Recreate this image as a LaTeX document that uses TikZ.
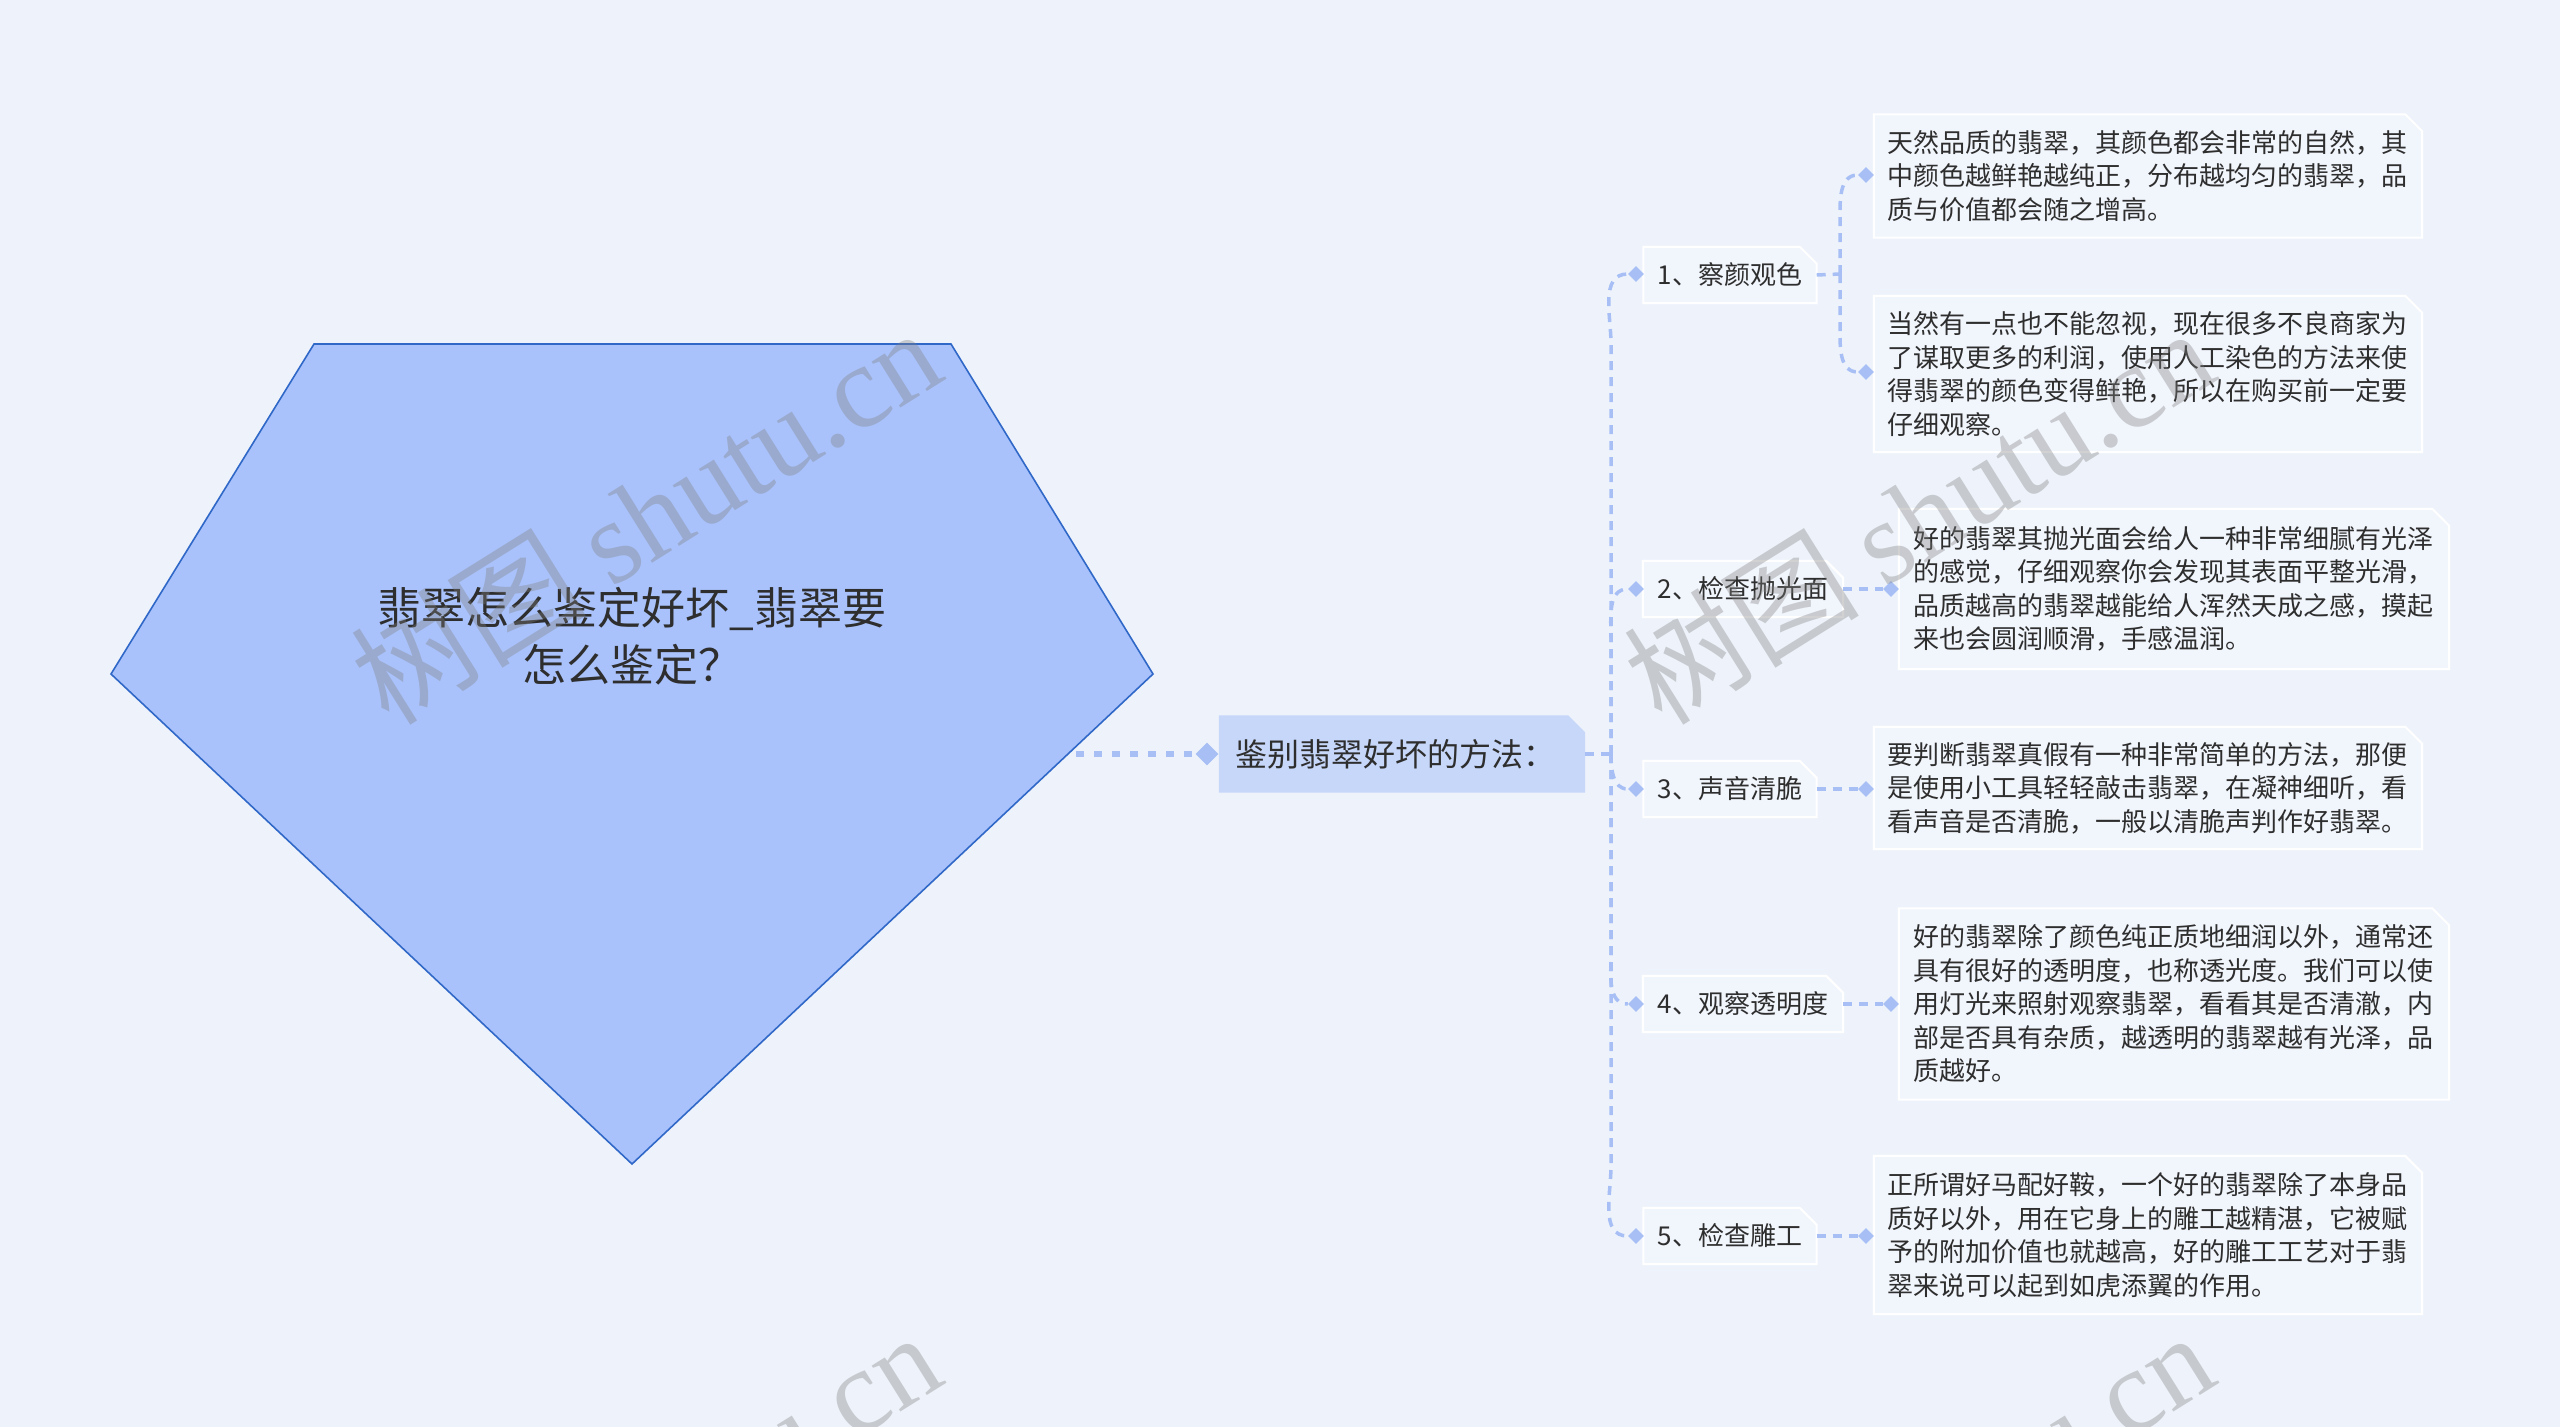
\documentclass[tikz,border=0pt]{standalone}
\usepackage{fontspec}
\setmainfont{Noto Sans CJK SC}
\newfontfamily\wmserif{Liberation Serif}
\usetikzlibrary{shapes.geometric}
\definecolor{bgc}{HTML}{EEF3FB}
\definecolor{pentfill}{HTML}{A9C2FB}
\definecolor{pentline}{HTML}{3068C8}
\definecolor{mainfill}{HTML}{C7D7F9}
\definecolor{linkc}{HTML}{A7BFF4}
\definecolor{boxfill}{HTML}{F1F5FC}
\definecolor{txt}{HTML}{2E2E2E}
\definecolor{wmc}{HTML}{808080}
\pgfdeclarelayer{back}
\pgfdeclarelayer{front}
\pgfsetlayers{back,main,front}
\newcommand\cutshape[3]{%
  \begin{pgfonlayer}{back}
  \path[#2] (#1.south west) -- (#1.north west) -- ([xshift=-#3pt]#1.north east) -- ([yshift=-#3pt]#1.north east) -- (#1.south east) -- cycle;
  \end{pgfonlayer}}
\begin{document}
\begin{tikzpicture}[x=1pt,y=-1pt,
  pent/.style={fill=pentfill,draw=pentline,line width=1.6pt,line join=miter},
  titletext/.style={align=center,text=txt,font=\fontsize{44}{57}\selectfont,inner sep=0pt},
  mainnode/.style={text width=334pt,inner xsep=16pt,inner ysep=0pt,minimum height=77pt,align=left,text=txt,font=\fontsize{32}{38}\selectfont},
  branchnode/.style={inner xsep=14pt,inner ysep=0pt,minimum height=56pt,text=txt,font=\fontsize{26}{32}\selectfont},
  leafnode/.style={text width=522pt,inner xsep=13pt,inner ysep=0pt,align=left,text=txt,font=\fontsize{26}{33.5}\selectfont},
  mainshape/.style={fill=mainfill},
  boxshape/.style={fill=boxfill,draw=white,line width=2pt},
  dmd/.style={shape=diamond,fill=linkc,inner sep=0pt,minimum size=16pt},
  bigdmd/.style={shape=diamond,fill=linkc,inner sep=0pt,minimum size=23pt},
  link/.style={draw=linkc,line width=3.5pt,dash pattern=on 9pt off 7pt},
  mainlink/.style={draw=linkc,line width=5.5pt,dash pattern=on 8pt off 10pt},
  wm/.style={text=wmc,opacity=0.36,inner sep=0pt,font=\fontsize{118}{120}\selectfont}
]
\useasboundingbox (0,0) rectangle (2560,1427);
\begin{pgfonlayer}{back}
\fill[bgc] (0,0) rectangle (2560,1427);
\end{pgfonlayer}

% root pentagon
\draw[pent] (314,344) -- (951,344) -- (1153,674) -- (632,1164) -- (111,674) -- cycle;
\node[titletext] (title) at (632,636) {翡翠怎么鉴定好坏\_翡翠要\\怎么鉴定？};
\coordinate (rootout) at (1076,754);

% main node
\node[mainnode] (main) at (1402,754) {鉴别翡翠好坏的方法：};
\cutshape{main}{mainshape}{17}
\node[bigdmd] (dmain) at (1207,754) {};
\draw[mainlink] (rootout) -- (dmain.west);

% branches
\node[branchnode,minimum width=173pt] (b1) at (1730,275) {1、察颜观色};
\node[branchnode,minimum width=200pt] (b2) at (1743,589) {2、检查抛光面};
\node[branchnode,minimum width=173pt] (b3) at (1730,789) {3、声音清脆};
\node[branchnode,minimum width=200pt] (b4) at (1743,1004) {4、观察透明度};
\node[branchnode,minimum width=173pt] (b5) at (1730,1236) {5、检查雕工};
\foreach \b in {b1,b2,b3,b4,b5}{\cutshape{\b}{boxshape}{17}}

\node[dmd] (d1) at (1636,274) {};
\node[dmd] (d2) at (1636,589) {};
\node[dmd] (d3) at (1636,789) {};
\node[dmd] (d4) at (1636,1004) {};
\node[dmd] (d5) at (1636,1236) {};

\coordinate (j) at (1611,754);
\draw[link] (main.east) -- (j);
\draw[link] (j) -- ([yshift=-70pt]j |- d1) to[out=90,in=180] (d1.west);
\draw[link] (j) -- ([yshift=-50pt]j |- d2) to[out=90,in=180] (d2.west);
\draw[link] (j) to[out=-90,in=180] (d3.west);
\draw[link] (j) -- ([yshift=50pt]j |- d4) to[out=-90,in=180] (d4.west);
\draw[link] (j) -- ([yshift=70pt]j |- d5) to[out=-90,in=180] (d5.west);

% leaves
\node[leafnode,minimum height=123pt] (l1a) at (2148,176) {天然品质的翡翠，其颜色都会非常的自然，其\\中颜色越鲜艳越纯正，分布越均匀的翡翠，品\\质与价值都会随之增高。};
\node[leafnode,minimum height=156pt] (l1b) at (2148,374) {当然有一点也不能忽视，现在很多不良商家为\\了谋取更多的利润，使用人工染色的方法来使\\得翡翠的颜色变得鲜艳，所以在购买前一定要\\仔细观察。};
\node[leafnode,minimum height=160pt,minimum width=550pt] (l2) at (2174,589) {好的翡翠其抛光面会给人一种非常细腻有光泽\\的感觉，仔细观察你会发现其表面平整光滑，\\品质越高的翡翠越能给人浑然天成之感，摸起\\来也会圆润顺滑，手感温润。};
\node[leafnode,minimum height=122pt] (l3) at (2148,788) {要判断翡翠真假有一种非常简单的方法，那便\\是使用小工具轻轻敲击翡翠，在凝神细听，看\\看声音是否清脆，一般以清脆声判作好翡翠。};
\node[leafnode,minimum height=191pt,minimum width=550pt] (l4) at (2174,1004) {好的翡翠除了颜色纯正质地细润以外，通常还\\具有很好的透明度，也称透光度。我们可以使\\用灯光来照射观察翡翠，看看其是否清澈，内\\部是否具有杂质，越透明的翡翠越有光泽，品\\质越好。};
\node[leafnode,minimum height=158pt] (l5) at (2148,1235) {正所谓好马配好鞍，一个好的翡翠除了本身品\\质好以外，用在它身上的雕工越精湛，它被赋\\予的附加价值也就越高，好的雕工工艺对于翡\\翠来说可以起到如虎添翼的作用。};
\foreach \l in {l1a,l1b,l2,l3,l4,l5}{\cutshape{\l}{boxshape}{17}}

\node[dmd] (e1a) at (1866,175) {};
\node[dmd] (e1b) at (1866,372) {};
\node[dmd] (e2) at (1891,589) {};
\node[dmd] (e3) at (1866,789) {};
\node[dmd] (e4) at (1891,1004) {};
\node[dmd] (e5) at (1866,1236) {};

\coordinate (k1) at (1840,274);
\draw[link] (b1.east) -- (k1);
\draw[link] (k1) -- ([yshift=-45pt]k1 |- e1a) to[out=90,in=180] (e1a.west);
\draw[link] (k1) -- ([yshift=45pt]k1 |- e1b) to[out=-90,in=180] (e1b.west);
\draw[link] (b2.east) -- (e2.west);
\draw[link] (b3.east) -- (e3.west);
\draw[link] (b4.east) -- (e4.west);
\draw[link] (b5.east) -- (e5.west);

% watermarks
\begin{pgfonlayer}{front}
\node[wm,rotate=32] (wm1) at (645,515) {树图 {\wmserif shutu.cn}};
\node[wm,rotate=32] (wm2) at (1918,515) {树图 {\wmserif shutu.cn}};
\node[wm,rotate=32] (wm3) at (645,1519) {树图 {\wmserif shutu.cn}};
\node[wm,rotate=32] (wm4) at (1918,1519) {树图 {\wmserif shutu.cn}};
\end{pgfonlayer}
\end{tikzpicture}
\end{document}
